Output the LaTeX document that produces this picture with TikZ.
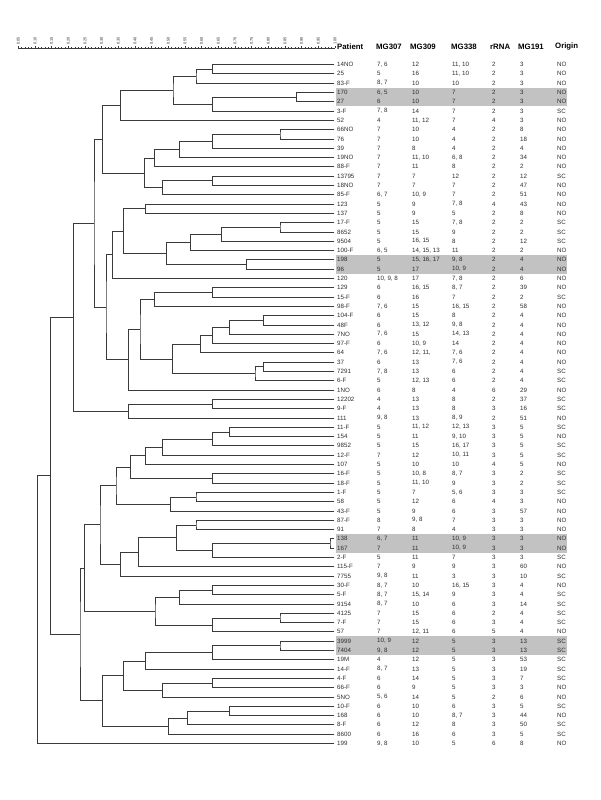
\documentclass[tikz,border=0pt]{standalone}
\usepackage{fontspec}
\setmainfont{Liberation Sans}
\usetikzlibrary{calc}
\definecolor{brc}{HTML}{3A3A3A}
\definecolor{bandc}{HTML}{C2C2C2}
\definecolor{txt}{HTML}{2E2E2E}
\tikzset{
  br/.style={draw=brc, line width=0.65pt, line cap=rect},
  cell/.style={anchor=west, inner sep=0pt, text=txt, font=\fontsize{6.2}{7}\selectfont},
  head/.style={anchor=west, inner sep=0pt, font=\bfseries\fontsize{7.8}{9}\selectfont},
  tickl/.style={draw=brc, line width=0.3pt},
  scl/.style={anchor=west, inner sep=0pt, rotate=90, text=txt, font=\fontsize{3.9}{4.5}\selectfont},
  bandbox/.style={fill=bandc, draw=none},
}
\newcommand{\trow}[8]{%
  \pgfmathsetmacro{\yy}{64.5+9.3*(#1-1)}%
  \coordinate (L#1) at (334,\yy);
  \node[cell] (p#1) at (337,\yy) {#2};
  \node[cell] (a#1) at (377,\yy) {#3};
  \node[cell] (b#1) at (412,\yy) {#4};
  \node[cell] (c#1) at (452,\yy) {#5};
  \node[cell] (d#1) at (492,\yy) {#6};
  \node[cell] (e#1) at (520,\yy) {#7};
  \node[cell] (f#1) at (557,\yy) {#8};
}
\newcommand{\jn}[4]{%
  \coordinate (#1m) at ($(#3)!0.5!(#4)$);
  \path let \p1=(#1m) in coordinate (#1) at (#2pt,\y1);
  \draw[br] (#3) -| (#1) |- (#4);
}
\newcommand{\bandrow}[1]{%
  \pgfmathsetmacro{\yb}{64.5+9.3*(#1-1)}%
  \fill[bandbox] (335.5,\yb-4.65) rectangle (567,\yb+9.3+4.65);
}
\begin{document}
\begin{tikzpicture}[x=1pt,y=-1pt]
\useasboundingbox (0,0) rectangle (600,800);
\fill[white] (0,0) rectangle (600,800);
% shaded rows
\bandrow{4}
\bandrow{22}
\bandrow{52}
\bandrow{63}
% scale
\coordinate (R0) at (18.3,48);
\coordinate (R1) at (335,48);
\draw[tickl] (R0) -- (R1);
\foreach \j in {0,...,95} {\draw[tickl] (18.3+3.3333*\j,48) -- ++(0,-1);}
\foreach \lab [count=\k from 0] in {0.05,0.10,0.15,0.20,0.25,0.30,0.35,0.40,0.45,0.50,0.55,0.60,0.65,0.70,0.75,0.80,0.85,0.90,0.95,1.00} {
  \draw[tickl] (18.3+16.6667*\k,48) -- ++(0,-2.2);
  \node[scl] at (18.3+16.6667*\k,44.8) {\lab};
}
% header
\node[head] (h1) at (337,47) {Patient};
\node[head] (h2) at (376,47) {MG307};
\node[head] (h3) at (410,47) {MG309};
\node[head] (h4) at (451,47) {MG338};
\node[head] (h5) at (490,47) {rRNA};
\node[head] (h6) at (518,47) {MG191};
\node[head] (h7) at (555,47) {Origin};
% rows
\trow{1}{14NO}{7, 6}{12}{11, 10}{2}{3}{NO}
\trow{2}{25}{5}{16}{11, 10}{2}{3}{NO}
\trow{3}{83-F}{8, 7}{10}{10}{2}{3}{NO}
\trow{4}{170}{6, 5}{10}{7}{2}{3}{NO}
\trow{5}{27}{6}{10}{7}{2}{3}{NO}
\trow{6}{3-F}{7, 8}{14}{7}{2}{3}{SC}
\trow{7}{52}{4}{11, 12}{7}{4}{3}{NO}
\trow{8}{66NO}{7}{10}{4}{2}{8}{NO}
\trow{9}{76}{7}{10}{4}{2}{18}{NO}
\trow{10}{39}{7}{8}{4}{2}{4}{NO}
\trow{11}{19NO}{7}{11, 10}{6, 8}{2}{34}{NO}
\trow{12}{88-F}{7}{11}{8}{2}{2}{NO}
\trow{13}{13795}{7}{7}{12}{2}{12}{SC}
\trow{14}{18NO}{7}{7}{7}{2}{47}{NO}
\trow{15}{85-F}{6, 7}{10, 9}{7}{2}{51}{NO}
\trow{16}{123}{5}{9}{7, 8}{4}{43}{NO}
\trow{17}{137}{5}{9}{5}{2}{8}{NO}
\trow{18}{17-F}{5}{15}{7, 8}{2}{2}{SC}
\trow{19}{8652}{5}{15}{9}{2}{2}{SC}
\trow{20}{9504}{5}{16, 15}{8}{2}{12}{SC}
\trow{21}{100-F}{6, 5}{14, 15, 13}{11}{2}{2}{NO}
\trow{22}{198}{5}{15, 16, 17}{9, 8}{2}{4}{NO}
\trow{23}{96}{5}{17}{10, 9}{2}{4}{NO}
\trow{24}{120}{10, 9, 8}{17}{7, 8}{2}{6}{NO}
\trow{25}{129}{6}{16, 15}{8, 7}{2}{39}{NO}
\trow{26}{15-F}{6}{16}{7}{2}{2}{SC}
\trow{27}{98-F}{7, 6}{15}{16, 15}{2}{58}{NO}
\trow{28}{104-F}{6}{15}{8}{2}{4}{NO}
\trow{29}{48F}{6}{13, 12}{9, 8}{2}{4}{NO}
\trow{30}{7NO}{7, 6}{15}{14, 13}{2}{4}{NO}
\trow{31}{97-F}{6}{10, 9}{14}{2}{4}{NO}
\trow{32}{64}{7, 6}{12, 11,}{7, 6}{2}{4}{NO}
\trow{33}{37}{6}{13}{7, 6}{2}{4}{NO}
\trow{34}{7291}{7, 8}{13}{6}{2}{4}{SC}
\trow{35}{6-F}{5}{12, 13}{6}{2}{4}{SC}
\trow{36}{1NO}{6}{8}{4}{6}{29}{NO}
\trow{37}{12202}{4}{13}{8}{2}{37}{SC}
\trow{38}{9-F}{4}{13}{8}{3}{16}{SC}
\trow{39}{111}{9, 8}{13}{8, 9}{2}{51}{NO}
\trow{40}{11-F}{5}{11, 12}{12, 13}{3}{5}{SC}
\trow{41}{154}{5}{11}{9, 10}{3}{5}{NO}
\trow{42}{9852}{5}{15}{16, 17}{3}{5}{SC}
\trow{43}{12-F}{7}{12}{10, 11}{3}{5}{SC}
\trow{44}{107}{5}{10}{10}{4}{5}{NO}
\trow{45}{16-F}{5}{10, 8}{8, 7}{3}{2}{SC}
\trow{46}{18-F}{5}{11, 10}{9}{3}{2}{SC}
\trow{47}{1-F}{5}{7}{5, 6}{3}{3}{SC}
\trow{48}{58}{5}{12}{6}{4}{3}{NO}
\trow{49}{43-F}{5}{9}{6}{3}{57}{NO}
\trow{50}{87-F}{8}{9, 8}{7}{3}{3}{NO}
\trow{51}{91}{7}{8}{4}{3}{3}{NO}
\trow{52}{138}{6, 7}{11}{10, 9}{3}{3}{NO}
\trow{53}{167}{7}{11}{10, 9}{3}{3}{NO}
\trow{54}{2-F}{5}{11}{7}{3}{3}{SC}
\trow{55}{115-F}{7}{9}{9}{3}{60}{NO}
\trow{56}{7755}{9, 8}{11}{3}{3}{10}{SC}
\trow{57}{30-F}{8, 7}{10}{16, 15}{3}{4}{NO}
\trow{58}{5-F}{8, 7}{15, 14}{9}{3}{4}{SC}
\trow{59}{9154}{8, 7}{10}{6}{3}{14}{SC}
\trow{60}{4125}{7}{15}{6}{2}{4}{SC}
\trow{61}{7-F}{7}{15}{6}{3}{4}{SC}
\trow{62}{57}{7}{12, 11}{6}{5}{4}{NO}
\trow{63}{3999}{10, 9}{12}{5}{3}{13}{SC}
\trow{64}{7404}{9, 8}{12}{5}{3}{13}{SC}
\trow{65}{19M}{4}{12}{5}{3}{53}{SC}
\trow{66}{14-F}{8, 7}{13}{5}{3}{19}{SC}
\trow{67}{4-F}{6}{14}{5}{3}{7}{SC}
\trow{68}{66-F}{6}{9}{5}{3}{3}{NO}
\trow{69}{5NO}{5, 6}{14}{5}{2}{6}{NO}
\trow{70}{10-F}{6}{10}{6}{3}{5}{SC}
\trow{71}{168}{6}{10}{8, 7}{3}{44}{NO}
\trow{72}{8-F}{6}{12}{8}{3}{50}{SC}
\trow{73}{8600}{6}{16}{6}{3}{5}{SC}
\trow{74}{199}{9, 8}{10}{5}{6}{8}{NO}
% dendrogram
\jn{nA}{212.7}{L1}{L2}
\jn{nB}{196}{nA}{L3}
\jn{nC}{296.7}{L4}{L5}
\jn{nD}{212.7}{nC}{L6}
\jn{nE}{173}{nB}{nD}
\jn{nF}{120.7}{nE}{L7}
\jn{nG}{280}{L8}{L9}
\jn{nH}{212.7}{nG}{L10}
\jn{nI}{179.3}{nH}{L11}
\jn{nJ}{154.3}{nI}{L12}
\jn{nK}{212.7}{L13}{L14}
\jn{nL}{162.7}{nK}{L15}
\jn{nM}{144.3}{nJ}{nL}
\jn{nN}{102.7}{nF}{nM}
\jn{nP}{145.3}{L16}{L17}
\jn{nR}{280}{L18}{L19}
\jn{nS}{221.7}{nR}{L20}
\jn{nT}{190.7}{nS}{L21}
\jn{nU}{246.7}{L22}{L23}
\jn{nV}{166.7}{nT}{nU}
\jn{nQ}{123.3}{nP}{nV}
\jn{nW}{112.3}{nQ}{L24}
\jn{nY}{212.7}{L25}{L26}
\jn{nZ}{154.3}{nY}{L27}
\jn{nAB}{263.3}{L28}{L29}
\jn{nAC}{229.3}{nAB}{L30}
\jn{nAD}{212.7}{nAC}{L31}
\jn{nAE}{200.7}{nAD}{L32}
\jn{nAH}{263.3}{L33}{L34}
\jn{nAI}{255}{nAH}{L35}
\jn{nAF}{172.7}{nAE}{nAI}
\jn{nAA}{140}{nZ}{nAF}
\jn{nAG}{128.7}{nAA}{L36}
\jn{nX}{106}{nW}{nAG}
\jn{nO}{94}{nN}{nX}
\jn{nAJ}{212.7}{L37}{L38}
\jn{nAK}{128.7}{nAJ}{L39}
\jn{nBB}{73.3}{nO}{nAK}
\jn{nAL}{229.3}{L40}{L41}
\jn{nAM}{212.7}{nAL}{L42}
\jn{nAN}{162.7}{nAM}{L43}
\jn{nAO}{145.3}{nAN}{L44}
\jn{nAP}{212.7}{L45}{L46}
\jn{nAQ}{130.7}{nAO}{nAP}
\jn{nAR}{196}{L47}{L48}
\jn{nAS}{170.7}{nAR}{L49}
\jn{nAT}{116}{nAQ}{nAS}
\jn{nAV}{196}{L50}{L51}
\jn{nAW}{330}{L52}{L53}
\jn{nAX}{212.7}{nAW}{L54}
\jn{nAY}{176.7}{nAV}{nAX}
\jn{nAZ}{138.7}{nAY}{L55}
\jn{nBA}{120.7}{nAZ}{L56}
\jn{nAU}{100}{nAT}{nBA}
\jn{nBD}{212.7}{L57}{L58}
\jn{nBE}{179.3}{nBD}{L59}
\jn{nBF}{280}{L60}{L61}
\jn{nBG}{212.7}{nBF}{L62}
\jn{nBH}{155}{nBE}{nBG}
\jn{nBC}{84.3}{nAU}{nBH}
\jn{nBJ}{280}{L63}{L64}
\jn{nBK}{212.7}{nBJ}{L65}
\jn{nBL}{145.3}{nBK}{L66}
\jn{nBO}{212.7}{L67}{L68}
\jn{nBN}{162.8}{nBO}{L69}
\jn{nBM}{123.3}{nBL}{nBN}
\jn{nBQ}{229.1}{L70}{L71}
\jn{nBR}{187.7}{nBQ}{L72}
\jn{nBS}{168.6}{nBR}{L73}
\jn{nBP}{102.7}{nBM}{nBS}
\jn{nBI}{80}{nBC}{nBP}
\jn{nCC}{50.7}{nBB}{nBI}
\jn{nRT}{37.3}{nCC}{L74}
\end{tikzpicture}
\end{document}
